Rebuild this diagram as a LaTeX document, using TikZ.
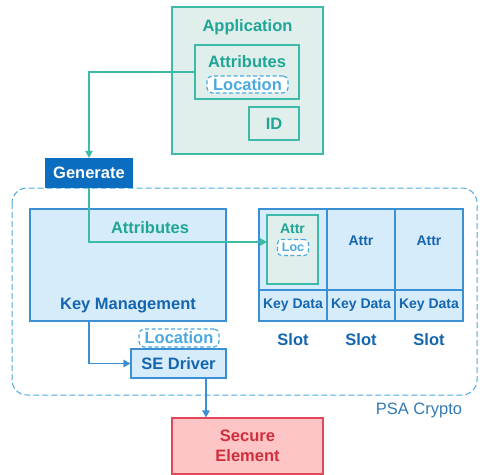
\documentclass[tikz,border=0pt]{standalone}
\usepackage{fontspec}
\setmainfont{Liberation Sans}
\usetikzlibrary{arrows.meta}

\definecolor{tealline}{HTML}{3DBBA8}
\definecolor{tealtxt}{HTML}{1FA696}
\definecolor{appfill}{HTML}{E0EEEC}
\definecolor{genblue}{HTML}{0B6DBF}
\definecolor{darkblue}{HTML}{1466B0}
\definecolor{kmfill}{HTML}{D7ECFB}
\definecolor{kmline}{HTML}{3B8FD4}
\definecolor{dashblue}{HTML}{4AA9E0}
\definecolor{sefill}{HTML}{FEC5C6}
\definecolor{seline}{HTML}{E2475A}
\definecolor{setxt}{HTML}{CF2F3D}

\begin{document}
\begin{tikzpicture}[x=1pt,y=-1pt,
  bigtxt/.style={font=\bfseries\fontsize{16.5}{18}\selectfont},
  smalltxt/.style={font=\bfseries\fontsize{14}{15}\selectfont},
  tealbox/.style={draw=tealline, fill=appfill, line width=1.2pt, inner sep=0pt},
  bluebox/.style={draw=kmline, fill=kmfill, line width=1.2pt, inner sep=0pt},
  locbox/.style={draw=dashblue, fill=white, line width=1.2pt, rounded corners=5pt,
    dash pattern=on 4pt off 2.5pt, text=dashblue, inner sep=0pt},
  conn/.style={line width=1.2pt, -{Triangle[length=7pt,width=7.5pt]}}]

\useasboundingbox (0,0) rectangle (482,474);

% PSA Crypto region
\draw [dashblue, line width=1pt, dash pattern=on 6pt off 3pt, rounded corners=15pt]
  (12,188) rectangle (477,395);
\node [text=kmline!85!black, font=\fontsize{16.5}{18}\selectfont] (psa) at (419,410) {PSA Crypto};

% application
\node [tealbox, minimum width=151pt, minimum height=147pt] (app) at (247.5,80.5) {};
\node [bigtxt, text=tealtxt] (apptitle) at (247.5,27) {Application};
\node [tealbox, minimum width=104pt, minimum height=54pt] (appattr) at (247,72) {};
\node [bigtxt, text=tealtxt] (appattrtxt) at (247,62) {Attributes};
\node [locbox, bigtxt, minimum width=81pt, minimum height=17pt] (apploc) at (247.5,84.5) {Location};
\node [tealbox, bigtxt, text=tealtxt, minimum width=50pt, minimum height=33pt] (id) at (274,123.5) {ID};

% generate
\node [fill=genblue, text=white, bigtxt, minimum width=88pt, minimum height=30pt, inner sep=0pt] (gen) at (89,173) {Generate};

% key management
\node [bluebox, minimum width=196pt, minimum height=112pt] (km) at (128,265) {};
\node [bigtxt, text=tealtxt] (kmattr) at (150,228) {Attributes};
\node [bigtxt, text=darkblue] (kmtxt) at (128,306) {Key Management};

% slots
\foreach \i in {0,1,2} {
  \node [bluebox, minimum width=68pt, minimum height=81pt] (attr\i) at (293+68*\i,249.5) {};
  \node [bluebox, smalltxt, text=darkblue, minimum width=68pt, minimum height=31pt] (kd\i) at (293+68*\i,305.5) {Key Data};
  \node [bigtxt, text=darkblue] (slot\i) at (293+68*\i,340) {Slot};
}
\node [smalltxt, text=darkblue] (attrtxt1) at (361,241) {Attr};
\node [smalltxt, text=darkblue] (attrtxt2) at (429,241) {Attr};
\node [tealbox, minimum width=51pt, minimum height=69pt] (inner) at (292.5,249.5) {};
\node [smalltxt, text=tealtxt] (innerattr) at (292.5,229) {Attr};
\node [locbox, font=\bfseries\fontsize{12.5}{14}\selectfont, minimum width=31pt, minimum height=16pt,
  rounded corners=4pt] (innerloc) at (293,247.5) {Loc};
\coordinate (attrin) at (267,242);

% SE driver
\node [locbox, bigtxt, minimum width=80pt, minimum height=18pt] (seloc) at (179,338) {Location};
\node [bluebox, bigtxt, text=darkblue, minimum width=95pt, minimum height=29pt] (sedrv) at (178.5,363.5) {SE Driver};

% secure element
\node [draw=seline, fill=sefill, line width=1.2pt, minimum width=151pt, minimum height=56pt,
  bigtxt, text=setxt, align=center, inner sep=0pt] (secure) at (247.5,446) {Secure\\[2pt]Element};

% connectors
\draw [conn, tealline] (appattr.west) -| (gen.north);
\draw [conn, tealline] (gen.south) |- (attrin);
\draw [conn, kmline] (gen.south |- km.south) |- (sedrv.west);
\draw [conn, kmline] ([xshift=27.5pt]sedrv.south) -- ([xshift=27.5pt]sedrv.south |- secure.north);

\end{tikzpicture}
\end{document}
